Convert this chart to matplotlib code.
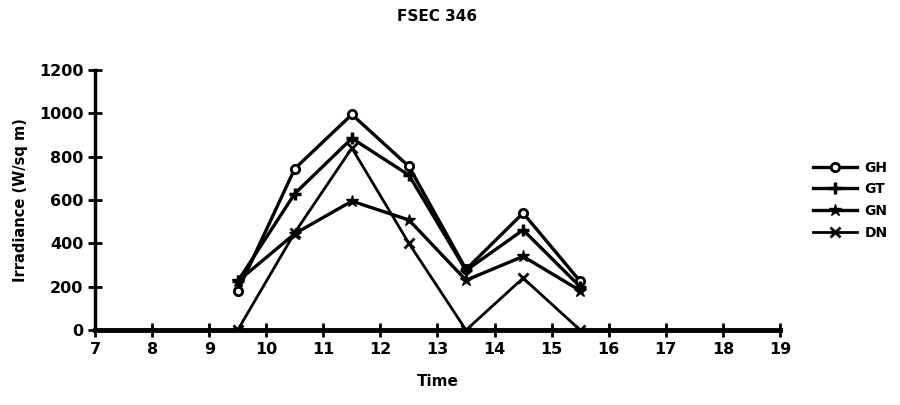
import matplotlib
matplotlib.use("Agg")
import matplotlib.pyplot as plt

# hours (mid-hour readings)
times = [9.5, 10.5, 11.5, 12.5, 13.5, 14.5, 15.5]
gh = [180, 745, 995, 755, 280, 540, 225]   # circle
gt = [225, 630, 885, 715, 275, 462, 200]   # plus
gn = [225, 445, 595, 508, 230, 340, 182]   # star
dn = [0, 450, 840, 400, 0, 240, 0]         # x
labels = ["GH", "GT", "GN", "DN"]
xticks = list(range(7, 20))
yticks = list(range(0, 1201, 200))

fig = plt.figure(figsize=(9, 4.05), dpi=100)
ax = fig.add_axes([0.1056, 0.185, 0.761, 0.642])

ax.plot(times, gh, color="black", lw=2.4, marker="o", ms=6, mfc="white", mew=2, label=labels[0])
ax.plot(times, gt, color="black", lw=2.4, marker="+", ms=9, mew=2.5, label=labels[1])
ax.plot(times, gn, color="black", lw=2.4, marker="*", ms=9, label=labels[2])
ax.plot(times, dn, color="black", lw=2.0, marker="x", ms=7, mew=2, label=labels[3])

ax.set_xlim(7, 19)
ax.set_ylim(0, 1200)
ax.set_xticks(xticks)
ax.set_yticks(yticks)
ax.spines["top"].set_visible(False)
ax.spines["right"].set_visible(False)
ax.spines["left"].set_linewidth(2.5)
ax.spines["bottom"].set_linewidth(3.5)
ax.spines["left"].set_bounds(0, 1200)
ax.tick_params(direction="inout", length=10, width=2, labelsize=11.5)
for t in ax.get_xticklabels() + ax.get_yticklabels():
    t.set_fontweight("bold")

ax.set_title("FSEC 346", fontsize=11, fontweight="bold", pad=35)
ax.set_xlabel("Time", fontsize=11, fontweight="bold", labelpad=12)
ax.set_ylabel("Irradiance (W/sq m)", fontsize=10.5, fontweight="bold", labelpad=8)

leg = ax.legend(loc="center left", bbox_to_anchor=(1.03, 0.5), frameon=False,
                handlelength=3.2, fontsize=10, labelspacing=0.55, handletextpad=0.5)
for t in leg.get_texts():
    t.set_fontweight("bold")

fig.savefig("out.png", dpi=100)
